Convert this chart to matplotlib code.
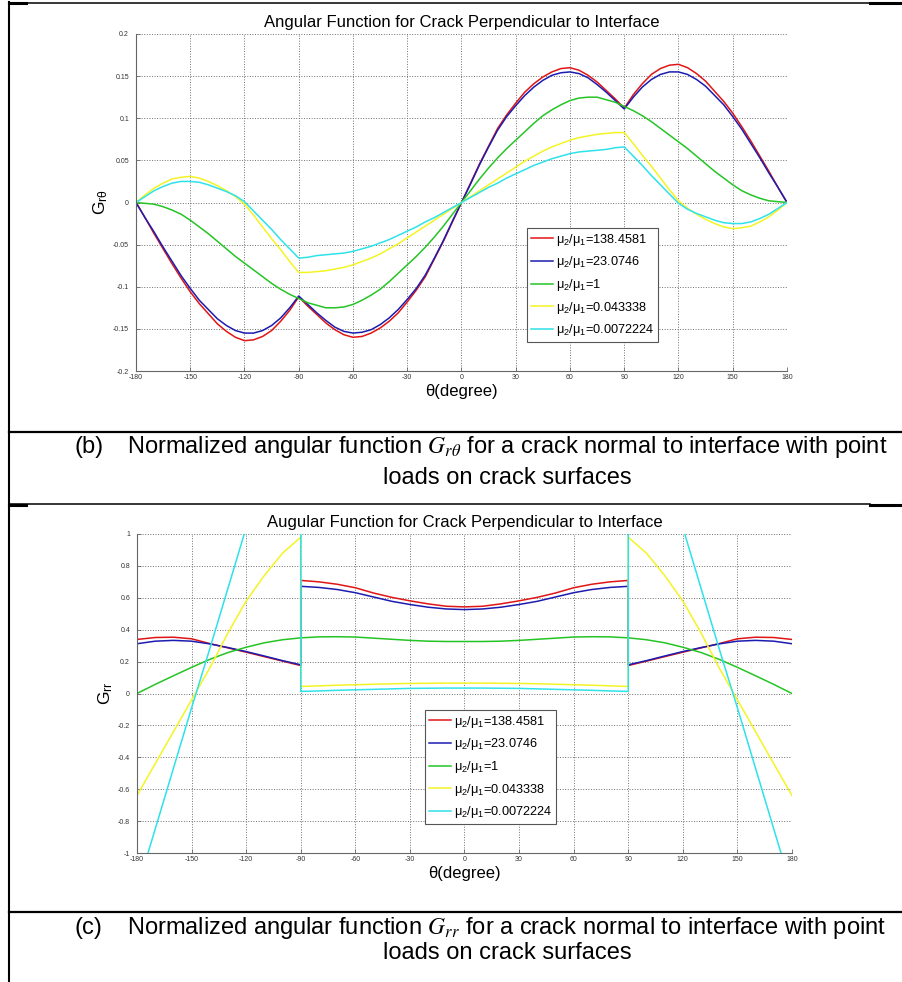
import numpy as np
import matplotlib
matplotlib.use("Agg")
import matplotlib.pyplot as plt
from matplotlib.lines import Line2D

plt.rcParams["font.family"] = ["Liberation Sans", "DejaVu Sans"]
plt.rcParams["mathtext.fontset"] = "custom"
plt.rcParams["mathtext.rm"] = "Liberation Sans"
plt.rcParams["mathtext.it"] = "Liberation Sans:italic"
plt.rcParams["axes.unicode_minus"] = False

W, H = 903, 982

# Series (mu2/mu1)
etiquetas = [
    "μ$_2$/μ$_1$=138.4581",
    "μ$_2$/μ$_1$=23.0746",
    "μ$_2$/μ$_1$=1",
    "μ$_2$/μ$_1$=0.043338",
    "μ$_2$/μ$_1$=0.0072224",
]
colores = ["#e01515", "#1c1cb0", "#25c425", "#f4f424", "#2ee2ea"]

# (b) G_r_theta, theta cada 5 grados (-180..180)
theta_b = list(range(-180, 181, 5))
grt_rojo = [0, -0.018, -0.037, -0.055, -0.073, -0.090, -0.106, -0.120, -0.132, -0.144,
            -0.153, -0.160, -0.164, -0.163, -0.159, -0.152, -0.141, -0.128, -0.112,
            -0.123, -0.133, -0.143, -0.151, -0.157, -0.160, -0.159, -0.155, -0.149,
            -0.141, -0.131, -0.118, -0.104, -0.088, -0.067, -0.046, -0.023, 0,
            0.023, 0.046, 0.067, 0.088, 0.104, 0.118, 0.131, 0.141, 0.149,
            0.155, 0.159, 0.160, 0.157, 0.151, 0.143, 0.133, 0.123, 0.112,
            0.128, 0.141, 0.152, 0.159, 0.163, 0.164, 0.160, 0.153, 0.144,
            0.132, 0.120, 0.106, 0.090, 0.073, 0.055, 0.037, 0.018, 0]
grt_azul = [0, -0.018, -0.035, -0.053, -0.070, -0.087, -0.102, -0.116, -0.127, -0.138,
            -0.146, -0.152, -0.155, -0.155, -0.152, -0.146, -0.137, -0.125, -0.111,
            -0.121, -0.131, -0.140, -0.148, -0.153, -0.155, -0.154, -0.151, -0.145,
            -0.137, -0.127, -0.115, -0.102, -0.086, -0.066, -0.045, -0.022, 0,
            0.022, 0.045, 0.066, 0.086, 0.102, 0.115, 0.127, 0.137, 0.145,
            0.151, 0.154, 0.155, 0.153, 0.148, 0.140, 0.131, 0.121, 0.111,
            0.125, 0.137, 0.146, 0.152, 0.155, 0.155, 0.152, 0.146, 0.138,
            0.127, 0.116, 0.102, 0.087, 0.070, 0.053, 0.035, 0.018, 0]
grt_verde = [0, -0.001, -0.002, -0.005, -0.009, -0.014, -0.021, -0.029, -0.037, -0.046,
             -0.055, -0.064, -0.072, -0.080, -0.088, -0.096, -0.103, -0.109, -0.114,
             -0.119, -0.122, -0.125, -0.125, -0.124, -0.121, -0.116, -0.110, -0.103,
             -0.094, -0.084, -0.074, -0.064, -0.053, -0.041, -0.028, -0.014, 0,
             0.014, 0.028, 0.041, 0.053, 0.064, 0.074, 0.084, 0.094, 0.103,
             0.110, 0.116, 0.121, 0.124, 0.125, 0.125, 0.122, 0.119, 0.114,
             0.109, 0.103, 0.096, 0.088, 0.080, 0.072, 0.064, 0.055, 0.046,
             0.037, 0.029, 0.021, 0.014, 0.009, 0.005, 0.002, 0.001, 0]
grt_amarillo = [0, 0.009, 0.017, 0.023, 0.028, 0.030, 0.031, 0.029, 0.025, 0.020,
                0.014, 0.007, -0.002, -0.015, -0.029, -0.043, -0.056, -0.070, -0.083,
                -0.083, -0.082, -0.081, -0.079, -0.077, -0.074, -0.070, -0.066, -0.061,
                -0.055, -0.049, -0.042, -0.035, -0.028, -0.021, -0.014, -0.007, 0,
                0.007, 0.014, 0.021, 0.028, 0.035, 0.042, 0.049, 0.055, 0.061,
                0.066, 0.070, 0.074, 0.077, 0.079, 0.081, 0.082, 0.083, 0.083,
                0.070, 0.056, 0.043, 0.029, 0.015, 0.002, -0.007, -0.014, -0.020,
                -0.025, -0.029, -0.031, -0.030, -0.028, -0.023, -0.017, -0.009, 0]
grt_cian = [0, 0.007, 0.014, 0.019, 0.023, 0.025, 0.025, 0.024, 0.021, 0.017,
            0.013, 0.008, 0.001, -0.010, -0.021, -0.032, -0.044, -0.055, -0.066,
            -0.065, -0.063, -0.062, -0.061, -0.060, -0.058, -0.055, -0.052, -0.048,
            -0.044, -0.039, -0.034, -0.029, -0.023, -0.018, -0.012, -0.006, 0,
            0.006, 0.012, 0.018, 0.023, 0.029, 0.034, 0.039, 0.044, 0.048,
            0.052, 0.055, 0.058, 0.060, 0.061, 0.062, 0.063, 0.065, 0.066,
            0.055, 0.044, 0.032, 0.021, 0.010, -0.001, -0.008, -0.013, -0.017,
            -0.021, -0.024, -0.025, -0.025, -0.023, -0.019, -0.014, -0.007, 0]

# (c) G_rr, salto en +-90
theta_c = (list(range(-180, -89, 10)) + list(range(-90, 91, 10))
           + list(range(90, 181, 10)))
grr_rojo = [0.339, 0.351, 0.353, 0.343, 0.313, 0.286, 0.259, 0.231, 0.203, 0.175,
            0.709, 0.700, 0.685, 0.663, 0.630, 0.603, 0.581, 0.562, 0.547, 0.543,
            0.547, 0.562, 0.581, 0.603, 0.630, 0.663, 0.685, 0.700, 0.709,
            0.175, 0.203, 0.231, 0.259, 0.286, 0.313, 0.343, 0.353, 0.351, 0.339]
grr_azul = [0.312, 0.328, 0.333, 0.328, 0.311, 0.288, 0.263, 0.235, 0.206, 0.180,
            0.672, 0.665, 0.652, 0.632, 0.605, 0.578, 0.558, 0.541, 0.530, 0.526,
            0.530, 0.541, 0.558, 0.578, 0.605, 0.632, 0.652, 0.665, 0.672,
            0.180, 0.206, 0.235, 0.263, 0.288, 0.311, 0.328, 0.333, 0.328, 0.312]
grr_verde = [0, 0.057, 0.111, 0.164, 0.214, 0.257, 0.290, 0.318, 0.337, 0.349,
             0.349, 0.355, 0.356, 0.354, 0.347, 0.340, 0.333, 0.328, 0.326, 0.326,
             0.326, 0.328, 0.333, 0.340, 0.347, 0.354, 0.356, 0.355, 0.349,
             0.349, 0.337, 0.318, 0.290, 0.257, 0.214, 0.164, 0.111, 0.057, 0]
grr_amarillo = [-0.64, -0.44, -0.24, -0.04, 0.16, 0.38, 0.58, 0.74, 0.88, 0.98,
                0.044, 0.048, 0.052, 0.055, 0.058, 0.061, 0.063, 0.064, 0.065, 0.065,
                0.065, 0.064, 0.063, 0.061, 0.058, 0.055, 0.052, 0.048, 0.044,
                0.98, 0.88, 0.74, 0.58, 0.38, 0.16, -0.04, -0.24, -0.44, -0.64]
grr_cian = [-1.23, -0.85, -0.47, -0.09, 0.28, 0.66, 1.04, 1.42, 1.79, 2.17,
            0.013, 0.016, 0.020, 0.023, 0.026, 0.029, 0.032, 0.033, 0.034, 0.034,
            0.034, 0.033, 0.032, 0.029, 0.026, 0.023, 0.020, 0.016, 0.013,
            2.17, 1.79, 1.42, 1.04, 0.66, 0.28, -0.09, -0.47, -0.85, -1.23]

xticks = list(range(-180, 181, 30))
yticks_b = [-0.2, -0.15, -0.1, -0.05, 0, 0.05, 0.1, 0.15, 0.2]
ylabs_b = ["-0.2", "-0.15", "-0.1", "-0.05", "0", "0.05", "0.1", "0.15", "0.2"]
yticks_c = [-1, -0.8, -0.6, -0.4, -0.2, 0, 0.2, 0.4, 0.6, 0.8, 1]
ylabs_c = ["-1", "-0.8", "-0.6", "-0.4", "-0.2", "0", "0.2", "0.4", "0.6", "0.8", "1"]


def fx(x):
    return x / W


def fy(y):
    return 1 - y / H


def panel(caja, x, series, yticks, ylabs, titulo, ylab, leg_pos):
    l, t, r, b = caja
    ax = fig.add_axes([fx(l), fy(b), fx(r) - fx(l), fy(t) - fy(b)])
    for y, c, lab in zip(series, colores, etiquetas):
        ax.plot(x, y, color=c, lw=1.1, label=lab)
    ax.set_xlim(-180, 180)
    ax.set_ylim(yticks[0], yticks[-1])
    ax.set_xticks(xticks)
    ax.set_xticklabels([str(v) for v in xticks])
    ax.set_yticks(yticks)
    ax.set_yticklabels(ylabs)
    ax.grid(True, ls=":", color="#707070", lw=0.7)
    ax.spines["top"].set_visible(False)
    ax.spines["right"].set_visible(False)
    for s in ["left", "bottom"]:
        ax.spines[s].set_color("#666666")
        ax.spines[s].set_linewidth(0.8)
    ax.tick_params(direction="in", length=3, width=0.6, colors="#666666",
                   labelsize=5, labelcolor="#333333")
    ax.tick_params(axis="y", pad=5)
    ax.tick_params(axis="x", pad=2)
    ax.set_title(titulo, fontsize=12, pad=5)
    ax.set_xlabel("θ(degree)", fontsize=12, labelpad=2)
    ax.set_ylabel(ylab, fontsize=12.5, labelpad=2)
    leg = ax.legend(loc="upper left", bbox_to_anchor=leg_pos, borderaxespad=0,
                    fontsize=9.2, fancybox=False, framealpha=1, edgecolor="#555555",
                    handlelength=1.75, handletextpad=0.25, labelspacing=0.52,
                    borderpad=0.3)
    leg.get_frame().set_linewidth(0.8)
    return ax


fig = plt.figure(figsize=(W / 100, H / 100), dpi=100)

panel((136, 34, 787, 371), theta_b,
      [grt_rojo, grt_azul, grt_verde, grt_amarillo, grt_cian],
      yticks_b, ylabs_b, "Angular Function for Crack Perpendicular to Interface",
      "G$_{\\mathrm{rθ}}$", (0.6006, 0.4243))

panel((137, 534, 792, 853), theta_c,
      [grr_rojo, grr_azul, grr_verde, grr_amarillo, grr_cian],
      yticks_c, ylabs_c, "Augular Function for Crack Perpendicular to Interface",
      "G$_{\\mathrm{rr}}$", (0.4397, 0.4483))

# Lineas de la tabla
def linea(x0, y0, x1, y1, lw):
    fig.add_artist(Line2D([fx(x0), fx(x1)], [fy(y0), fy(y1)],
                          transform=fig.transFigure, color="black", lw=lw))

linea(9, 2, 9, 982, 1.5)
for yy in [2.5, 504]:
    linea(9, yy, 870, yy, 1.1)
    linea(9, yy + 0.5, 26, yy + 0.5, 2.2)
    linea(870, yy + 0.5, 903, yy + 0.5, 2.2)
for yy in [432, 912]:
    linea(9, yy, 903, yy, 1.6)

# Leyendas de las figuras
cap = dict(fontsize=17, va="center")
fig.text(fx(75), fy(447), "(b)", ha="left", **cap)
fig.text(fx(507), fy(447),
         "Normalized angular function $G_{r\\theta}$ for a crack normal to interface with point",
         ha="center", math_fontfamily="stix", **cap)
fig.text(fx(507), fy(478), "loads on crack surfaces", ha="center", **cap)
fig.text(fx(75), fy(928), "(c)", ha="left", **cap)
fig.text(fx(507), fy(928),
         "Normalized angular function $G_{rr}$ for a crack normal to interface with point",
         ha="center", math_fontfamily="stix", **cap)
fig.text(fx(507), fy(953), "loads on crack surfaces", ha="center", **cap)

fig.savefig("out.png", dpi=100)
